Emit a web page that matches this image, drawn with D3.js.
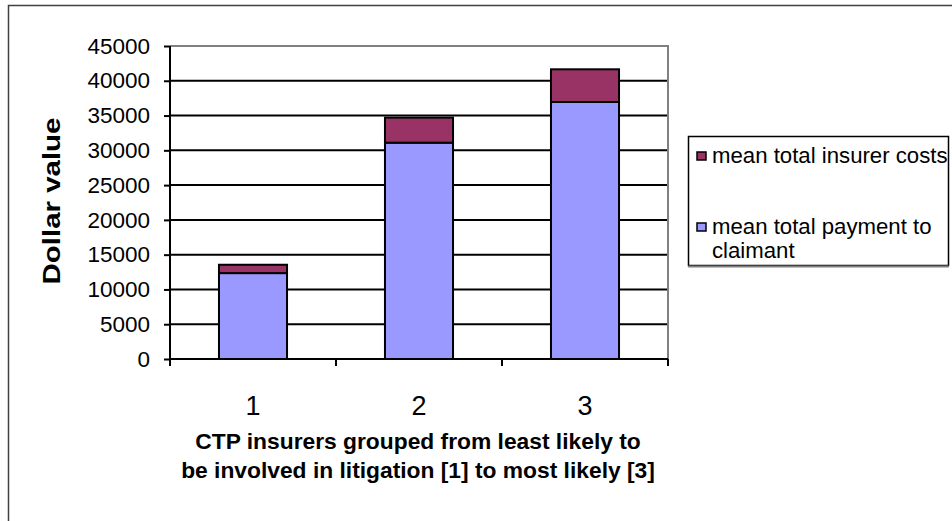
<!DOCTYPE html>
<html>
<head>
<meta charset="utf-8">
<script src="https://cdn.jsdelivr.net/npm/d3@7"></script>
<style>
  html, body { margin: 0; padding: 0; background: #fff; }
  svg { display: block; }
  text { font-family: "Liberation Sans", Arial, Helvetica, sans-serif; fill: #000; }
</style>
</head>
<body>
<svg id="chart" width="952" height="521"></svg>
<script>
// Litigation groups of CTP insurers
const categories = ["1", "2", "3"];
// Stacked series, bottom to top
const paymentToClaimant = [12350, 31100, 36950];
const insurerCosts = [1200, 3600, 4700];
const seriesNames = ["mean total payment to claimant", "mean total insurer costs"];
const seriesColors = ["#9999ff", "#993366"];
const yTicks = [0, 5000, 10000, 15000, 20000, 25000, 30000, 35000, 40000, 45000];

const svg = d3.select("#chart");

// Chart frame
svg.append("path")
  .attr("d", "M8.5,521 V5.5 H952")
  .attr("fill", "none")
  .attr("stroke", "#404040")
  .attr("stroke-width", 1.5);

const plot = { left: 170, right: 668, top: 46, bottom: 359 };

const x = d3.scaleBand()
  .domain(categories)
  .range([plot.left, plot.right])
  .paddingInner(0)
  .paddingOuter(0);

const y = d3.scaleLinear()
  .domain([0, 45000])
  .range([plot.bottom, plot.top]);

// Gridlines
svg.append("g")
  .selectAll("line")
  .data(yTicks.filter(d => d > 0 && d < 45000))
  .join("line")
  .attr("x1", plot.left).attr("x2", plot.right)
  .attr("y1", d => y(d)).attr("y2", d => y(d))
  .attr("stroke", "#000")
  .attr("stroke-width", 2);

// Plot area border (top and right)
svg.append("path")
  .attr("d", `M${plot.left},${y(45000)} H${plot.right} V${plot.bottom}`)
  .attr("fill", "none")
  .attr("stroke", "#808080")
  .attr("stroke-width", 2);

// Stacked bars
const rows = categories.map((c, i) => ({ cat: c, payment: paymentToClaimant[i], costs: insurerCosts[i] }));
const stack = d3.stack().keys(["payment", "costs"]);
const stacked = stack(rows);

const barWidth = x.bandwidth() * 0.41;
svg.append("g")
  .selectAll("g")
  .data(stacked)
  .join("g")
  .attr("fill", (d, i) => seriesColors[i])
  .selectAll("rect")
  .data(d => d)
  .join("rect")
  .attr("x", d => x(d.data.cat) + (x.bandwidth() - barWidth) / 2)
  .attr("width", barWidth)
  .attr("y", d => y(d[1]))
  .attr("height", d => y(d[0]) - y(d[1]))
  .attr("stroke", "#000")
  .attr("stroke-width", 2);

// Y axis
const yAxis = d3.axisLeft(y)
  .tickValues(yTicks)
  .tickSize(6)
  .tickPadding(14)
  .tickFormat(d3.format("d"));
const yg = svg.append("g")
  .attr("transform", `translate(${plot.left},0)`)
  .call(yAxis);
yg.select(".domain").attr("d", `M0,${plot.top}V${plot.bottom + 6}`).attr("stroke", "#000").attr("stroke-width", 2);
yg.selectAll(".tick line").attr("stroke", "#000").attr("stroke-width", 2);
yg.selectAll(".tick text")
  .attr("font-size", 22.5)
  .attr("font-family", "Liberation Sans, Arial, sans-serif")
  .attr("fill", "#000");

// X axis with ticks on category boundaries
const xg = svg.append("g")
  .attr("transform", `translate(0,${plot.bottom})`);
xg.append("line")
  .attr("x1", plot.left).attr("x2", plot.right)
  .attr("stroke", "#000").attr("stroke-width", 2);
const boundaries = categories.map(c => x(c)).concat([plot.right]);
xg.selectAll("line.b")
  .data(boundaries)
  .join("line")
  .attr("class", "b")
  .attr("x1", d => d).attr("x2", d => d)
  .attr("y1", 0).attr("y2", 7)
  .attr("stroke", "#000").attr("stroke-width", 2);
xg.selectAll("text")
  .data(categories)
  .join("text")
  .attr("x", d => x(d) + x.bandwidth() / 2)
  .attr("y", 56)
  .attr("text-anchor", "middle")
  .attr("font-size", 27)
  .text(d => d);

// Axis titles
const xTitle = svg.append("text")
  .attr("text-anchor", "middle")
  .attr("font-size", 22.8)
  .attr("font-weight", "bold");
xTitle.append("tspan").attr("x", 418).attr("y", 449).text("CTP insurers grouped from least likely to");
xTitle.append("tspan").attr("x", 418).attr("y", 478).text("be involved in litigation [1] to most likely [3]");

svg.append("text")
  .attr("transform", "translate(60,201) rotate(-90)")
  .attr("text-anchor", "middle")
  .attr("font-size", 24)
  .attr("font-weight", "bold")
  .attr("textLength", 167)
  .attr("lengthAdjust", "spacingAndGlyphs")
  .text("Dollar value");

// Legend
const legend = svg.append("g");
legend.append("rect")
  .attr("x", 688.5).attr("y", 136.5)
  .attr("width", 260).attr("height", 129)
  .attr("fill", "#fff")
  .attr("stroke", "#000")
  .attr("stroke-width", 1.5);
legend.append("line")
  .attr("x1", 688).attr("x2", 949).attr("y1", 266.5).attr("y2", 266.5)
  .attr("stroke", "#808080").attr("stroke-width", 2);

const legendItems = [
  { color: seriesColors[1], lines: [seriesNames[1]], y: 163 },
  { color: seriesColors[0], lines: ["mean total payment to", "claimant"], y: 234 }
];
legendItems.forEach(item => {
  legend.append("rect")
    .attr("x", 697).attr("y", item.y - 11)
    .attr("width", 9).attr("height", 8)
    .attr("fill", item.color)
    .attr("stroke", "#000").attr("stroke-width", 1.5);
  const t = legend.append("text").attr("font-size", 22.2);
  item.lines.forEach((ln, k) => {
    t.append("tspan").attr("x", 712).attr("y", item.y + k * 24).text(ln);
  });
});
</script>
</body>
</html>
